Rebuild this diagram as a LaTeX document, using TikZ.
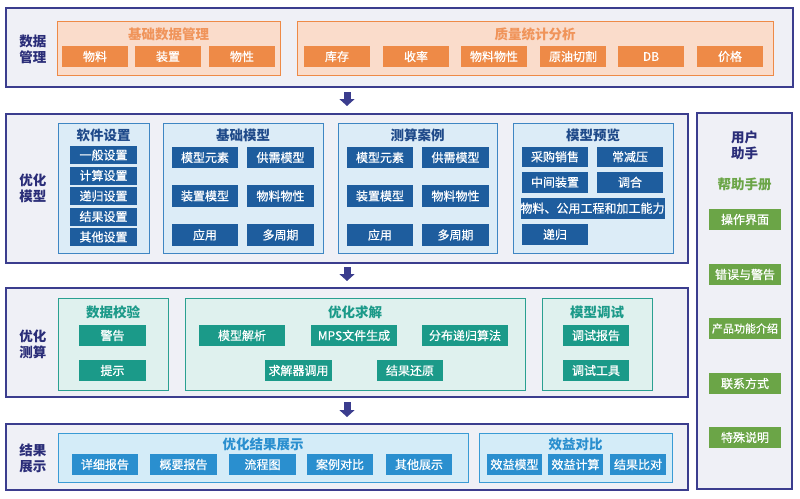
\documentclass[tikz,border=0pt]{standalone}
\usepackage{fontspec}
\setmainfont{Noto Sans CJK SC}
\newfontfamily\itmfont{Noto Sans CJK SC}[FakeBold=0.6]
\usetikzlibrary{arrows.meta,calc}
\definecolor{navy}{HTML}{3B3D8E}
\definecolor{outerbg}{HTML}{EFF0F6}
\definecolor{lblc}{HTML}{2A2D78}
\definecolor{orI}{HTML}{EE8A47}
\definecolor{orT}{HTML}{F0945A}
\definecolor{orB}{HTML}{FADCCB}
\definecolor{blI}{HTML}{1E5D9E}
\definecolor{blB}{HTML}{DCECF7}
\definecolor{blL}{HTML}{3F86C3}
\definecolor{blT}{HTML}{1F4A8A}
\definecolor{tlI}{HTML}{1B9A89}
\definecolor{tlB}{HTML}{DFF1EE}
\definecolor{tlL}{HTML}{2AA091}
\definecolor{skI}{HTML}{2A8FCF}
\definecolor{skB}{HTML}{D4ECF8}
\definecolor{skL}{HTML}{3A9BD5}
\definecolor{grI}{HTML}{6BA547}
\tikzset{
  base/.style={inner sep=0pt, outer sep=0pt, anchor=center},
  outer/.style={base, draw=navy, fill=outerbg, line width=1.3pt},
  boxO/.style={base, draw=orI, fill=orB, line width=1pt},
  boxB/.style={base, draw=blL, fill=blB, line width=1pt},
  boxT/.style={base, draw=tlL, fill=tlB, line width=1pt},
  boxS/.style={base, draw=skL, fill=skB, line width=1pt},
  itm/.style={base, text=white, font=\itmfont\fontsize{12}{14}\selectfont},
  itO/.style={itm, fill=orI},
  itB/.style={itm, fill=blI},
  itT/.style={itm, fill=tlI},
  itS/.style={itm, fill=skI},
  itG/.style={itm, fill=grI},
  ttl/.style={base, font=\fontsize{13.5}{15}\selectfont\bfseries},
  ttlO/.style={ttl, text=orT},
  ttlB/.style={ttl, text=blT},
  ttlT/.style={ttl, text=tlI},
  ttlS/.style={ttl, text=skI},
  ttlG/.style={ttl, text=grI},
  lbl/.style={base, align=center, text=lblc, font=\fontsize{13.5}{16}\selectfont\bfseries},
  blockarr/.style={draw=navy, line width=7pt, -{Triangle[width=15pt,length=7pt]}}
}
\newcommand\bx[7]{\node[#1, minimum width={#4-#2}, minimum height={#5-#3}] (#6) at ({(#2+#4)/2},{(#3+#5)/2}) {#7};}
\begin{document}
\begin{tikzpicture}[x=1pt,y=-1pt]
\useasboundingbox[fill=white] (0,0) rectangle (800,498);
% ---------- Layer 1
\bx{outer}{6}{8}{793}{87}{L1}{}
\node[lbl] (lab1) at (33,49) {数据\\管理};
\bx{boxO}{57}{21}{280}{75}{B11}{}
\node[ttlO] (T11) at (168.5,34) {基础数据管理};
\bx{itO}{62}{46}{128}{67}{i111}{物料}
\bx{itO}{135}{46}{201}{67}{i112}{装置}
\bx{itO}{209}{46}{275}{67}{i113}{物性}
\bx{boxO}{297}{21}{773}{75}{B12}{}
\node[ttlO] (T12) at (535,34) {质量统计分析};
\bx{itO}{304}{46}{370}{67}{i121}{库存}
\bx{itO}{383}{46}{449}{67}{i122}{收率}
\bx{itO}{461}{46}{527}{67}{i123}{物料物性}
\bx{itO}{540}{46}{606}{67}{i124}{原油切割}
\bx{itO}{618}{46}{684}{67}{i125}{DB}
\bx{itO}{697}{46}{763}{67}{i126}{价格}
% ---------- Layer 2
\bx{outer}{6}{114}{688}{263}{L2}{}
\node[lbl] (lab2) at (33,188) {优化\\模型};
\bx{boxB}{58}{123}{149}{253}{B21}{}
\node[ttlB] (T21) at (103.5,135) {软件设置};
\bx{itB}{70}{146}{137}{164}{i211}{一般设置}
\bx{itB}{70}{166.5}{137}{184.5}{i212}{计算设置}
\bx{itB}{70}{187}{137}{205}{i213}{递归设置}
\bx{itB}{70}{207.5}{137}{225.5}{i214}{结果设置}
\bx{itB}{70}{228}{137}{246}{i215}{其他设置}
\bx{boxB}{163}{123}{323}{253}{B22}{}
\node[ttlB] (T22) at (243,135) {基础模型};
\bx{itB}{172}{147}{238}{168}{i221}{模型元素}
\bx{itB}{247}{147}{314}{168}{i222}{供需模型}
\bx{itB}{172}{185}{238}{207}{i223}{装置模型}
\bx{itB}{247}{185}{314}{207}{i224}{物料物性}
\bx{itB}{172}{224}{238}{246}{i225}{应用}
\bx{itB}{247}{224}{314}{246}{i226}{多周期}
\bx{boxB}{338}{123}{497}{253}{B23}{}
\node[ttlB] (T23) at (417.5,135) {测算案例};
\bx{itB}{347}{147}{413}{168}{i231}{模型元素}
\bx{itB}{422}{147}{489}{168}{i232}{供需模型}
\bx{itB}{347}{185}{413}{207}{i233}{装置模型}
\bx{itB}{422}{185}{489}{207}{i234}{物料物性}
\bx{itB}{347}{224}{413}{246}{i235}{应用}
\bx{itB}{422}{224}{489}{246}{i236}{多周期}
\bx{boxB}{513}{123}{673}{253}{B24}{}
\node[ttlB] (T24) at (593,135) {模型预览};
\bx{itB}{522}{146.5}{588}{167}{i241}{采购销售}
\bx{itB}{597}{146.5}{663}{167}{i242}{常减压}
\bx{itB}{522}{172}{588}{192.5}{i243}{中间装置}
\bx{itB}{597}{172}{663}{192.5}{i244}{调合}
\bx{itB}{522}{198}{663}{218.5}{i245}{物料、公用工程和加工能力}
\bx{itB}{522}{224}{588}{245}{i246}{递归}
% ---------- Layer 3
\bx{outer}{6}{288}{688}{397}{L3}{}
\node[lbl] (lab3) at (33,344) {优化\\测算};
\bx{boxT}{58}{298}{168}{390}{B31}{}
\node[ttlT] (T31) at (113,312) {数据校验};
\bx{itT}{79}{325}{146}{346}{i311}{警告}
\bx{itT}{79}{360}{146}{381}{i312}{提示}
\bx{boxT}{185}{298}{525}{390}{B32}{}
\node[ttlT] (T32) at (355,312) {优化求解};
\bx{itT}{199}{325}{285}{346}{i321}{模型解析}
\bx{itT}{311}{325}{397}{346}{i322}{MPS文件生成}
\bx{itT}{422}{325}{508}{346}{i323}{分布递归算法}
\bx{itT}{265}{360}{332}{381}{i324}{求解器调用}
\bx{itT}{377}{360}{443}{381}{i325}{结果还原}
\bx{boxT}{542}{298}{652}{390}{B33}{}
\node[ttlT] (T33) at (597,312) {模型调试};
\bx{itT}{563}{325}{629}{346}{i331}{调试报告}
\bx{itT}{563}{360}{629}{381}{i332}{调试工具}
% ---------- Layer 4
\bx{outer}{6}{424}{688}{490}{L4}{}
\node[lbl] (lab4) at (33,458) {结果\\展示};
\bx{boxS}{58}{433}{468}{482}{B41}{}
\node[ttlS] (T41) at (263,444) {优化结果展示};
\bx{itS}{72}{454}{138}{475}{i411}{详细报告}
\bx{itS}{150}{454}{217}{475}{i412}{概要报告}
\bx{itS}{229}{454}{296}{475}{i413}{流程图}
\bx{itS}{307}{454}{373}{475}{i414}{案例对比}
\bx{itS}{386}{454}{452}{475}{i415}{其他展示}
\bx{boxS}{479}{433}{672}{482}{B42}{}
\node[ttlS] (T42) at (575.5,444) {效益对比};
\bx{itS}{487}{454}{542}{475}{i421}{效益模型}
\bx{itS}{548}{454}{603}{475}{i422}{效益计算}
\bx{itS}{610}{454}{666}{475}{i423}{结果比对}
% ---------- Right panel
\bx{outer}{697}{113}{792}{489}{R}{}
\node[lbl] (labR) at (744.5,145) {用户\\助手};
\node[ttlG] (TR) at (744.5,184) {帮助手册};
\bx{itG}{709}{209}{781}{230}{r1}{操作界面}
\bx{itG}{709}{264}{781}{285}{r2}{错误与警告}
\bx{itG}{709}{318}{781}{339}{r3}{\fontsize{11}{13}\selectfont 产品功能介绍}
\bx{itG}{709}{373}{781}{394}{r4}{联系方式}
\bx{itG}{709}{427}{781}{448}{r5}{特殊说明}
% ---------- arrows
\coordinate (ax) at (347,0);
\draw[blockarr] ($(L1.south -| ax)+(0,5)$) -- ($(L2.north -| ax)+(0,-8)$);
\draw[blockarr] ($(L2.south -| ax)+(0,4)$) -- ($(L3.north -| ax)+(0,-7)$);
\draw[blockarr] ($(L3.south -| ax)+(0,5)$) -- ($(L4.north -| ax)+(0,-7)$);
\end{tikzpicture}
\end{document}
